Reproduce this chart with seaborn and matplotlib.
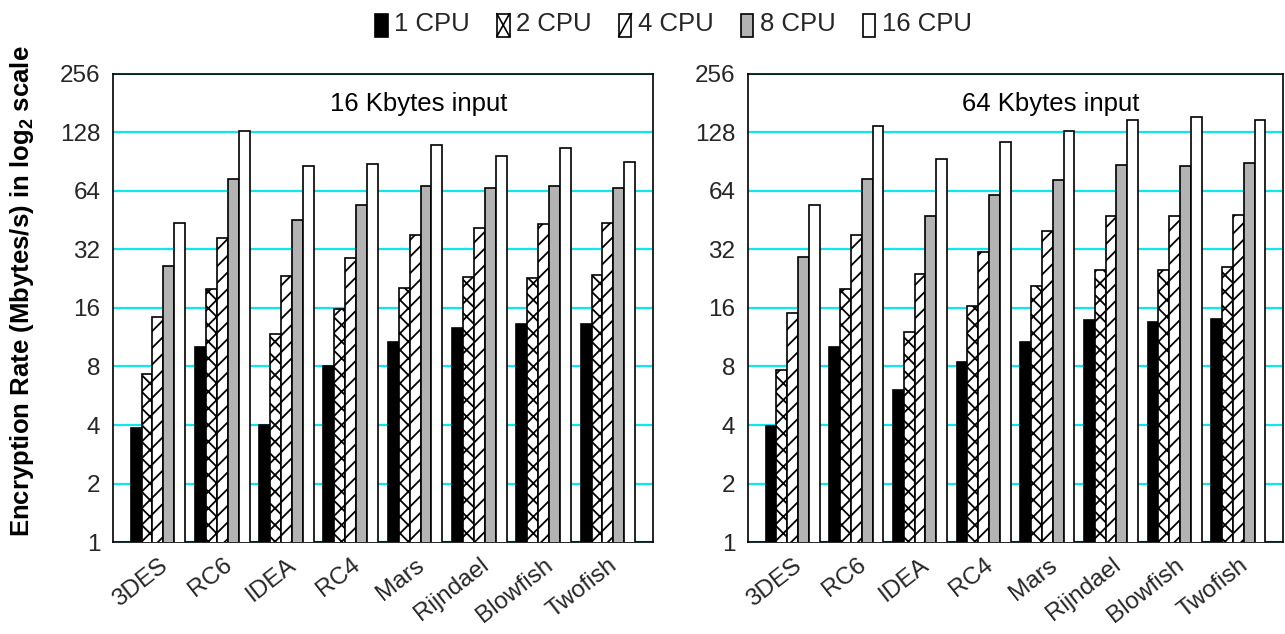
import matplotlib
matplotlib.use("Agg")
import matplotlib.pyplot as plt
import matplotlib.transforms as mtransforms
from matplotlib.patches import Patch, Rectangle
from matplotlib.lines import Line2D
from matplotlib.legend_handler import HandlerBase
import seaborn as sns
import pandas as pd

algorithms = ["3DES", "RC6", "IDEA", "RC4", "Mars", "Rijndael", "Blowfish", "Twofish"]
cpus = ["1 CPU", "2 CPU", "4 CPU", "8 CPU", "16 CPU"]

# 16 Kbytes input (Mbytes/s)
k16_1cpu = [3.86, 10.1, 4.0, 8.06, 10.7, 12.6, 13.3, 13.3]
k16_2cpu = [7.3, 20.0, 11.8, 15.9, 20.2, 23.2, 22.8, 23.7]
k16_4cpu = [14.3, 36.6, 23.3, 28.9, 37.9, 41.2, 43.2, 44.0]
k16_8cpu = [26.4, 74.0, 45.6, 54.0, 67.8, 66.0, 68.3, 66.6]
k16_16cpu = [44.0, 130.0, 86.4, 88.0, 111.0, 96.7, 107.0, 90.7]

# 64 Kbytes input (Mbytes/s)
k64_1cpu = [3.97, 10.1, 6.03, 8.4, 10.7, 13.8, 13.6, 14.0]
k64_2cpu = [7.7, 20.0, 12.0, 16.4, 20.7, 25.0, 25.1, 26.0]
k64_4cpu = [15.0, 37.8, 23.9, 31.1, 40.0, 47.8, 47.5, 48.3]
k64_8cpu = [29.3, 74.0, 47.5, 61.2, 72.5, 87.0, 86.0, 89.0]
k64_16cpu = [53.9, 138.0, 93.0, 115.0, 130.0, 148.0, 153.0, 149.0]

panel_titles = ["16 Kbytes input", "64 Kbytes input"]
y_ticks = [1, 2, 4, 8, 16, 32, 64, 128, 256]

fills = ["black", "white", "white", "#B3B3B3", "white"]
hatches = [None, "xx", "//", None, None]


def make_df(series):
    rows = []
    for cpu, vals in zip(cpus, series):
        for alg, v in zip(algorithms, vals):
            rows.append({"alg": alg, "cpu": cpu, "rate": v})
    return pd.DataFrame(rows)


df16 = make_df([k16_1cpu, k16_2cpu, k16_4cpu, k16_8cpu, k16_16cpu])
df64 = make_df([k64_1cpu, k64_2cpu, k64_4cpu, k64_8cpu, k64_16cpu])

sns.set_theme(style="white")
plt.rcParams["font.family"] = ["Liberation Sans", "DejaVu Sans"]
plt.rcParams["mathtext.fontset"] = "custom"
plt.rcParams["mathtext.rm"] = "Liberation Sans"
plt.rcParams["mathtext.bf"] = "Liberation Sans:bold"
plt.rcParams["hatch.linewidth"] = 1.3
plt.rcParams["hatch.color"] = "black"

fig = plt.figure(figsize=(12.85, 6.34), dpi=100)
ax1 = fig.add_axes([0.0879, 0.1451, 0.4202, 0.7382])
ax2 = fig.add_axes([0.5821, 0.1451, 0.4163, 0.7382])

for ax, df, title in [(ax1, df16, panel_titles[0]), (ax2, df64, panel_titles[1])]:
    sns.barplot(data=df, x="alg", y="rate", hue="cpu", order=algorithms,
                hue_order=cpus, palette=fills, width=0.85, gap=0,
                edgecolor="black", linewidth=1.2, saturation=1,
                legend=False, ax=ax, zorder=3)
    for cont, fc, h in zip(ax.containers, fills, hatches):
        for bar in cont:
            bar.set_facecolor(fc)
            bar.set_edgecolor("black")
            if h:
                bar.set_hatch(h)
    ax.set_yscale("log", base=2)
    ax.set_ylim(1, 256)
    ax.set_xlim(-0.7, 7.7)
    ax.set_yticks(y_ticks)
    ax.set_yticklabels([str(t) for t in y_ticks])
    ax.yaxis.grid(True, color="#10E6EE", linewidth=1.6, zorder=0)
    ax.xaxis.grid(False)
    ax.set_axisbelow(True)
    ax.minorticks_off()
    ax.tick_params(axis="y", length=0, pad=9, labelsize=17.5)
    ax.tick_params(axis="x", length=0, pad=15, labelsize=17.5)
    offset = mtransforms.ScaledTranslation(7 / 100, 0, fig.dpi_scale_trans)
    for lab in ax.get_xticklabels():
        lab.set_rotation(38)
        lab.set_ha("right")
        lab.set_va("center")
        lab.set_rotation_mode("anchor")
        lab.set_transform(lab.get_transform() + offset)
    ax.set_xlabel("")
    ax.set_ylabel("")
    for sp in ax.spines.values():
        sp.set_color("black")
        sp.set_linewidth(1.2)
        sp.set_visible(True)
    ax.text(0.566, 0.935, title, transform=ax.transAxes, ha="center",
            va="center", fontsize=18.5, color="black")

fig.text(0.017, 0.541, r"Encryption Rate (Mbytes/s) in log$_\mathbf{2}$ scale",
         rotation=90, ha="center", va="center", fontsize=18.5,
         fontweight="bold", color="black")


class BoxHandler(HandlerBase):
    def __init__(self, fc, kind):
        super().__init__()
        self.fc = fc
        self.kind = kind

    def create_artists(self, legend, orig_handle, xdescent, ydescent,
                       width, height, fontsize, trans):
        x0, y0 = -xdescent, -ydescent - 2
        x1, y1 = x0 + width, y0 + height
        arts = [Rectangle((x0, y0), width, height, facecolor=self.fc,
                          edgecolor="black", linewidth=1.2, transform=trans)]
        if self.kind in ("xx", "//"):
            arts.append(Line2D([x0, x1], [y0, y1], color="black",
                               linewidth=1.2, transform=trans))
        if self.kind == "xx":
            arts.append(Line2D([x0, x1], [y1, y0], color="black",
                               linewidth=1.2, transform=trans))
        return arts


handles = [Patch(facecolor=fc, edgecolor="black", label=c)
           for fc, c in zip(fills, cpus)]
hmap = {h: BoxHandler(fc, k) for h, fc, k in zip(handles, fills, hatches)}
fig.legend(handles, cpus, handler_map=hmap, loc="center",
           bbox_to_anchor=(0.524, 0.963), ncol=5, frameon=False,
           fontsize=18.5, handlelength=0.5, handleheight=1.0,
           handletextpad=0.25, columnspacing=1.05, borderaxespad=0)

fig.savefig("out.png", dpi=100)
